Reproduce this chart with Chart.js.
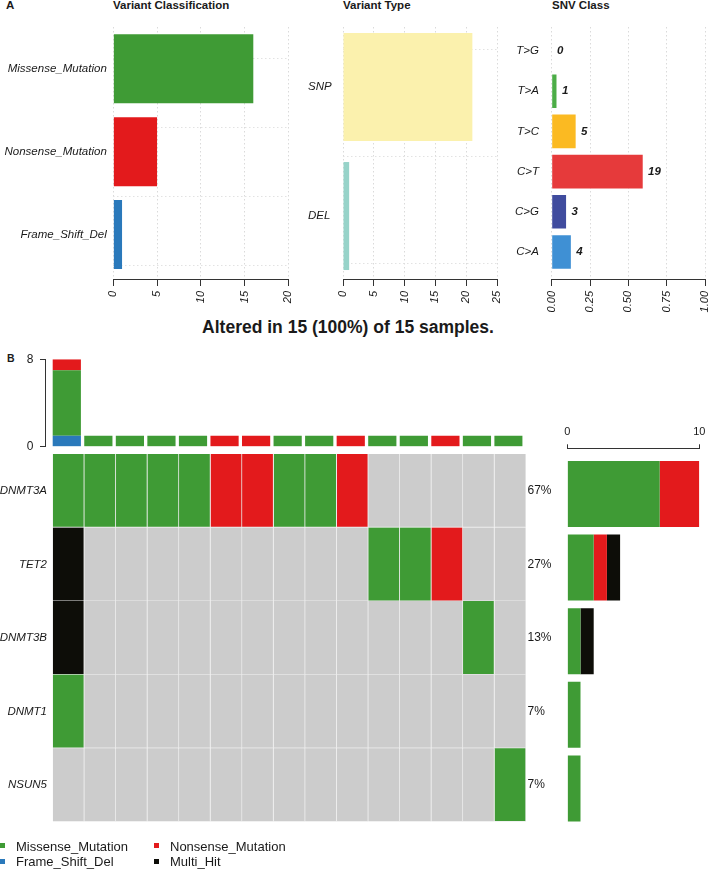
<!DOCTYPE html>
<html>
<head>
<meta charset="utf-8">
<script src="https://cdn.jsdelivr.net/npm/chart.js@4.4.1/dist/chart.umd.min.js"></script>
<style>
body { margin:0; width:709px; height:870px; position:relative; background:#fff; overflow:hidden;
  font-family:"Liberation Sans", Arial, sans-serif; color:#1a1a1a; }
canvas { position:absolute; }
.txt { position:absolute; line-height:1; white-space:nowrap; }
.sq { position:absolute; width:4.5px; height:4.5px; }
</style>
</head>
<body>
<div class="txt" style="left:6px;top:-0.5px;font-size:11.5px;font-weight:bold">A</div>
<div class="txt" style="left:113px;top:-0.5px;font-size:11.5px;font-weight:bold">Variant Classification</div>
<div class="txt" style="left:343px;top:-0.5px;font-size:11.5px;font-weight:bold">Variant Type</div>
<div class="txt" style="left:552px;top:-0.5px;font-size:11.5px;font-weight:bold">SNV Class</div>
<div class="txt" style="left:0;width:696px;text-align:center;top:318.7px;font-size:17.5px;font-weight:bold">Altered in 15 (100%) of 15 samples.</div>
<div class="txt" style="left:7px;top:353px;font-size:10.5px;font-weight:bold">B</div>

<canvas id="vc" width="309" height="318" style="left:0;top:0"></canvas>
<canvas id="vt" width="217" height="318" style="left:300px;top:0"></canvas>
<canvas id="snv" width="215" height="318" style="left:510px;top:0"></canvas>
<canvas id="tmb" width="530" height="125" style="left:0;top:340px"></canvas>
<canvas id="onco" width="565" height="408" style="left:0;top:434px"></canvas>
<canvas id="gbar" width="164" height="410" style="left:550px;top:420px"></canvas>

<div class="sq" style="left:0;top:843px;background:#3f9b35"></div>
<div class="txt" style="left:16px;top:839.5px;font-size:13px">Missense_Mutation</div>
<div class="sq" style="left:154px;top:843px;background:#e31a1c"></div>
<div class="txt" style="left:170px;top:839.5px;font-size:13px">Nonsense_Mutation</div>
<div class="sq" style="left:0;top:859px;background:#2a79bb"></div>
<div class="txt" style="left:16px;top:855.3px;font-size:13px">Frame_Shift_Del</div>
<div class="sq" style="left:154px;top:859px;background:#0d0d08"></div>
<div class="txt" style="left:170px;top:855.3px;font-size:13px">Multi_Hit</div>

<script>
// panel A data
const vcLabels = ['Missense_Mutation', 'Nonsense_Mutation', 'Frame_Shift_Del'];
const vcCounts = [16, 5, 1];
const vtLabels = ['SNP', 'DEL'];
const vtCounts = [21, 1];
const snvLabels = ['T>G', 'T>A', 'T>C', 'C>T', 'C>G', 'C>A'];
const snvCounts = [0, 1, 5, 19, 3, 4];

// panel B data
const genes = ['DNMT3A', 'TET2', 'DNMT3B', 'DNMT1', 'NSUN5'];
const genePct = ['67%', '27%', '13%', '7%', '7%'];
const sampleFrameShift = [1, 0, 0, 0, 0, 0, 0, 0, 0, 0, 0, 0, 0, 0, 0];
const sampleMissense   = [6, 1, 1, 1, 1, 0, 0, 1, 1, 0, 1, 1, 0, 1, 1];
const sampleNonsense   = [1, 0, 0, 0, 0, 1, 1, 0, 0, 1, 0, 0, 1, 0, 0];
// M = missense, N = nonsense, H = multi hit, '' = none
const rowDNMT3A = ['M','M','M','M','M','N','N','M','M','N','','','','',''];
const rowTET2   = ['H','','','','','','','','','','M','M','N','',''];
const rowDNMT3B = ['H','','','','','','','','','','','','','M',''];
const rowDNMT1  = ['M','','','','','','','','','','','','','',''];
const rowNSUN5  = ['','','','','','','','','','','','','','','M'];
const geneMissense = [7, 2, 1, 1, 1];
const geneNonsense = [3, 1, 0, 0, 0];
const geneMultiHit = [0, 1, 1, 0, 0];

const GREEN = '#3f9b35', RED = '#e31a1c', BLUE = '#2a79bb', BLACK = '#0d0d08', GRAY = '#cccccc';
const typeColor = { M: GREEN, N: RED, H: BLACK, F: BLUE, '': GRAY };

Chart.defaults.font.family = '"Liberation Sans", Arial, sans-serif';
Chart.defaults.color = '#1a1a1a';
Chart.defaults.animation = false;
Chart.defaults.plugins.legend.display = false;
Chart.defaults.plugins.tooltip.enabled = false;

const fixW = (w) => (s) => { s.width = w; };
const fixH = (h) => (s) => { s.height = h; };
const setTicks = (vals) => (s) => { s.ticks = vals.map((v) => ({ value: v })); };

// R style horizontal barplot for panel A
function hbarPanel(id, labels, values, colors, cfg, plugins) {
  const rows = labels.map((_, i) => i);
  const scales = {
    x: {
      type: 'linear', min: 0, max: cfg.xMax,
      afterBuildTicks: setTicks(cfg.xTicks),
      afterFit: fixH(39),
      grid: { color: '#dadada', tickColor: '#333', tickLength: 7, lineWidth: 1, borderDash: [1.5, 2.5] },
      border: { color: '#333', dash: [1.5, 2.5] },
      ticks: { autoSkip: false, minRotation: 90, maxRotation: 90, padding: 5,
        font: { size: 11, style: 'italic' }, callback: cfg.fmt }
    },
    y: {
      type: 'linear', reverse: true, offset: false, min: cfg.yMin, max: cfg.yMax,
      afterBuildTicks: setTicks(rows),
      afterFit: fixW(cfg.yWidth),
      grid: { display: false, drawTicks: false, offset: false },
      border: { display: false },
      ticks: { autoSkip: false, padding: cfg.labelPad, crossAlign: cfg.crossAlign || 'near',
        font: { size: 11.5, style: 'italic' }, callback: (v) => labels[v] }
    }
  };
  if (cfg.hLines) {
    scales.yg = {
      type: 'linear', position: 'left', reverse: true, offset: false, min: cfg.yMin, max: cfg.yMax,
      afterBuildTicks: setTicks(cfg.hLines),
      afterFit: fixW(0),
      ticks: { display: false },
      grid: { color: '#e2e2e2', drawTicks: false, borderDash: [1.5, 2.5] },
      border: { display: false, dash: [1.5, 2.5] }
    };
  }
  return new Chart(document.getElementById(id), {
    type: 'bar',
    data: {
      datasets: [{
        data: values.map((v, i) => ({ x: v, y: i })),
        backgroundColor: colors,
        barPercentage: cfg.barPct,
        categoryPercentage: 1
      }]
    },
    options: {
      indexAxis: 'y',
      responsive: false,
      layout: { autoPadding: false, padding: cfg.padding },
      scales: scales
    },
    plugins: plugins || []
  });
}

hbarPanel('vc', vcLabels, vcCounts, [GREEN, RED, BLUE], {
  xMax: 20, xTicks: [0, 5, 10, 15, 20], fmt: (v) => String(v),
  yMin: -0.504, yMax: 2.536, yWidth: 113.3, labelPad: 6.5, barPct: 0.833,
  hLines: [0.292, 1.124, 1.957],
  padding: { left: 0, right: 20.7, top: 27, bottom: 0 }
});

hbarPanel('vt', vtLabels, vtCounts, ['#fbf1ad', '#97d3c9'], {
  xMax: 25, xTicks: [0, 5, 10, 15, 20, 25], fmt: (v) => String(v),
  yMin: -0.465, yMax: 1.488, yWidth: 35, labelPad: 6, crossAlign: 'far', barPct: 0.837,
  hLines: [0.124, 0.953],
  padding: { left: 8, right: 20, top: 27, bottom: 0 }
});

const snvTotal = snvCounts.reduce((a, b) => a + b, 0);
const countLabels = {
  id: 'countLabels',
  afterDatasetsDraw(chart) {
    const ctx = chart.ctx;
    ctx.save();
    ctx.font = 'italic bold 11.5px "Liberation Sans", Arial, sans-serif';
    ctx.fillStyle = '#1a1a1a';
    ctx.textBaseline = 'middle';
    chart.getDatasetMeta(0).data.forEach((bar, i) => {
      ctx.fillText(String(snvCounts[i]), bar.x + 5.4, bar.y);
    });
    ctx.restore();
  }
};
hbarPanel('snv', snvLabels, snvCounts.map((c) => c / snvTotal),
  ['#a65628', '#4cad47', '#fbba22', '#e63a3b', '#404c9e', '#3f90d4'], {
  xMax: 1, xTicks: [0, 0.25, 0.5, 0.75, 1], fmt: (v) => v.toFixed(2),
  yMin: -0.597, yMax: 5.672, yWidth: 41.7, labelPad: 12.7, barPct: 0.836,
  padding: { left: 0, right: 20, top: 27, bottom: 0 }
}, [countLabels]);

// top barplot: variants per sample
const sampleIdx = sampleMissense.map((_, i) => i);
const perSample = (arr, color) => ({
  data: arr.map((v, i) => ({ x: i, y: v })),
  backgroundColor: color,
  barPercentage: 0.894,
  categoryPercentage: 1
});
new Chart(document.getElementById('tmb'), {
  type: 'bar',
  data: {
    datasets: [
      perSample(sampleFrameShift, BLUE),
      perSample(sampleMissense, GREEN),
      perSample(sampleNonsense, RED)
    ]
  },
  options: {
    responsive: false,
    layout: { autoPadding: false, padding: { left: 0, right: 7.3, top: 19.3, bottom: 18.3 } },
    scales: {
      x: {
        type: 'linear', display: false, stacked: true, offset: false, min: -0.691, max: 14.45,
        grid: { offset: false },
        afterBuildTicks: setTicks(sampleIdx)
      },
      y: {
        type: 'linear', stacked: true, min: 0, max: 8,
        afterBuildTicks: setTicks([0, 8]),
        afterFit: fixW(45),
        grid: { drawOnChartArea: false, tickLength: 5, color: '#333' },
        border: { color: '#333' },
        ticks: { padding: 6.5, font: { size: 12 } }
      }
    }
  }
});

// oncoplot matrix
const geneRows = [rowDNMT3A, rowTET2, rowDNMT3B, rowDNMT1, rowNSUN5];
new Chart(document.getElementById('onco'), {
  type: 'bar',
  data: {
    labels: genes,
    datasets: sampleIdx.map((s) => ({
      data: genes.map(() => 1),
      backgroundColor: geneRows.map((r) => typeColor[r[s]]),
      borderColor: '#ececec',
      borderWidth: { top: 0, left: 0, right: 1, bottom: 1 },
      borderSkipped: false,
      barPercentage: 1,
      categoryPercentage: 1
    }))
  },
  options: {
    indexAxis: 'y',
    responsive: false,
    layout: { autoPadding: false, padding: { left: 0, right: 0, top: 20, bottom: 20.3 } },
    scales: {
      x: { type: 'linear', display: false, stacked: true, min: 0, max: 15 },
      y: {
        stacked: true,
        afterFit: fixW(52.7),
        grid: { display: false, drawTicks: false },
        border: { display: false },
        ticks: { padding: 5.7, font: { size: 11.5, style: 'italic' } }
      },
      y2: {
        type: 'category', position: 'right', labels: genePct, offset: true,
        afterFit: fixW(39),
        grid: { display: false, drawTicks: false },
        border: { display: false },
        ticks: { padding: 1.5, font: { size: 12 } }
      }
    }
  }
});

// right barplot: mutated samples per gene
const perGene = (arr, color) => ({
  data: arr.map((v, i) => ({ x: v, y: i })),
  backgroundColor: color,
  barPercentage: 0.897,
  categoryPercentage: 1
});
new Chart(document.getElementById('gbar'), {
  type: 'bar',
  data: {
    datasets: [
      perGene(geneMissense, GREEN),
      perGene(geneNonsense, RED),
      perGene(geneMultiHit, BLACK)
    ]
  },
  options: {
    indexAxis: 'y',
    responsive: false,
    layout: { autoPadding: false, padding: { left: 17.3, right: 14.7, top: 0, bottom: 4.8 } },
    scales: {
      x: {
        type: 'linear', position: 'top', stacked: true, min: 0, max: 10,
        afterBuildTicks: setTicks([0, 10]),
        afterFit: fixH(28.3),
        grid: { drawOnChartArea: false, tickLength: 4, color: '#333' },
        border: { color: '#333' },
        ticks: { padding: 6, font: { size: 11 } }
      },
      y: {
        type: 'linear', display: false, stacked: true, reverse: true, offset: false,
        min: -0.621, max: 4.5,
        grid: { offset: false },
        afterBuildTicks: setTicks(genes.map((_, i) => i))
      }
    }
  }
});
</script>
</body>
</html>
